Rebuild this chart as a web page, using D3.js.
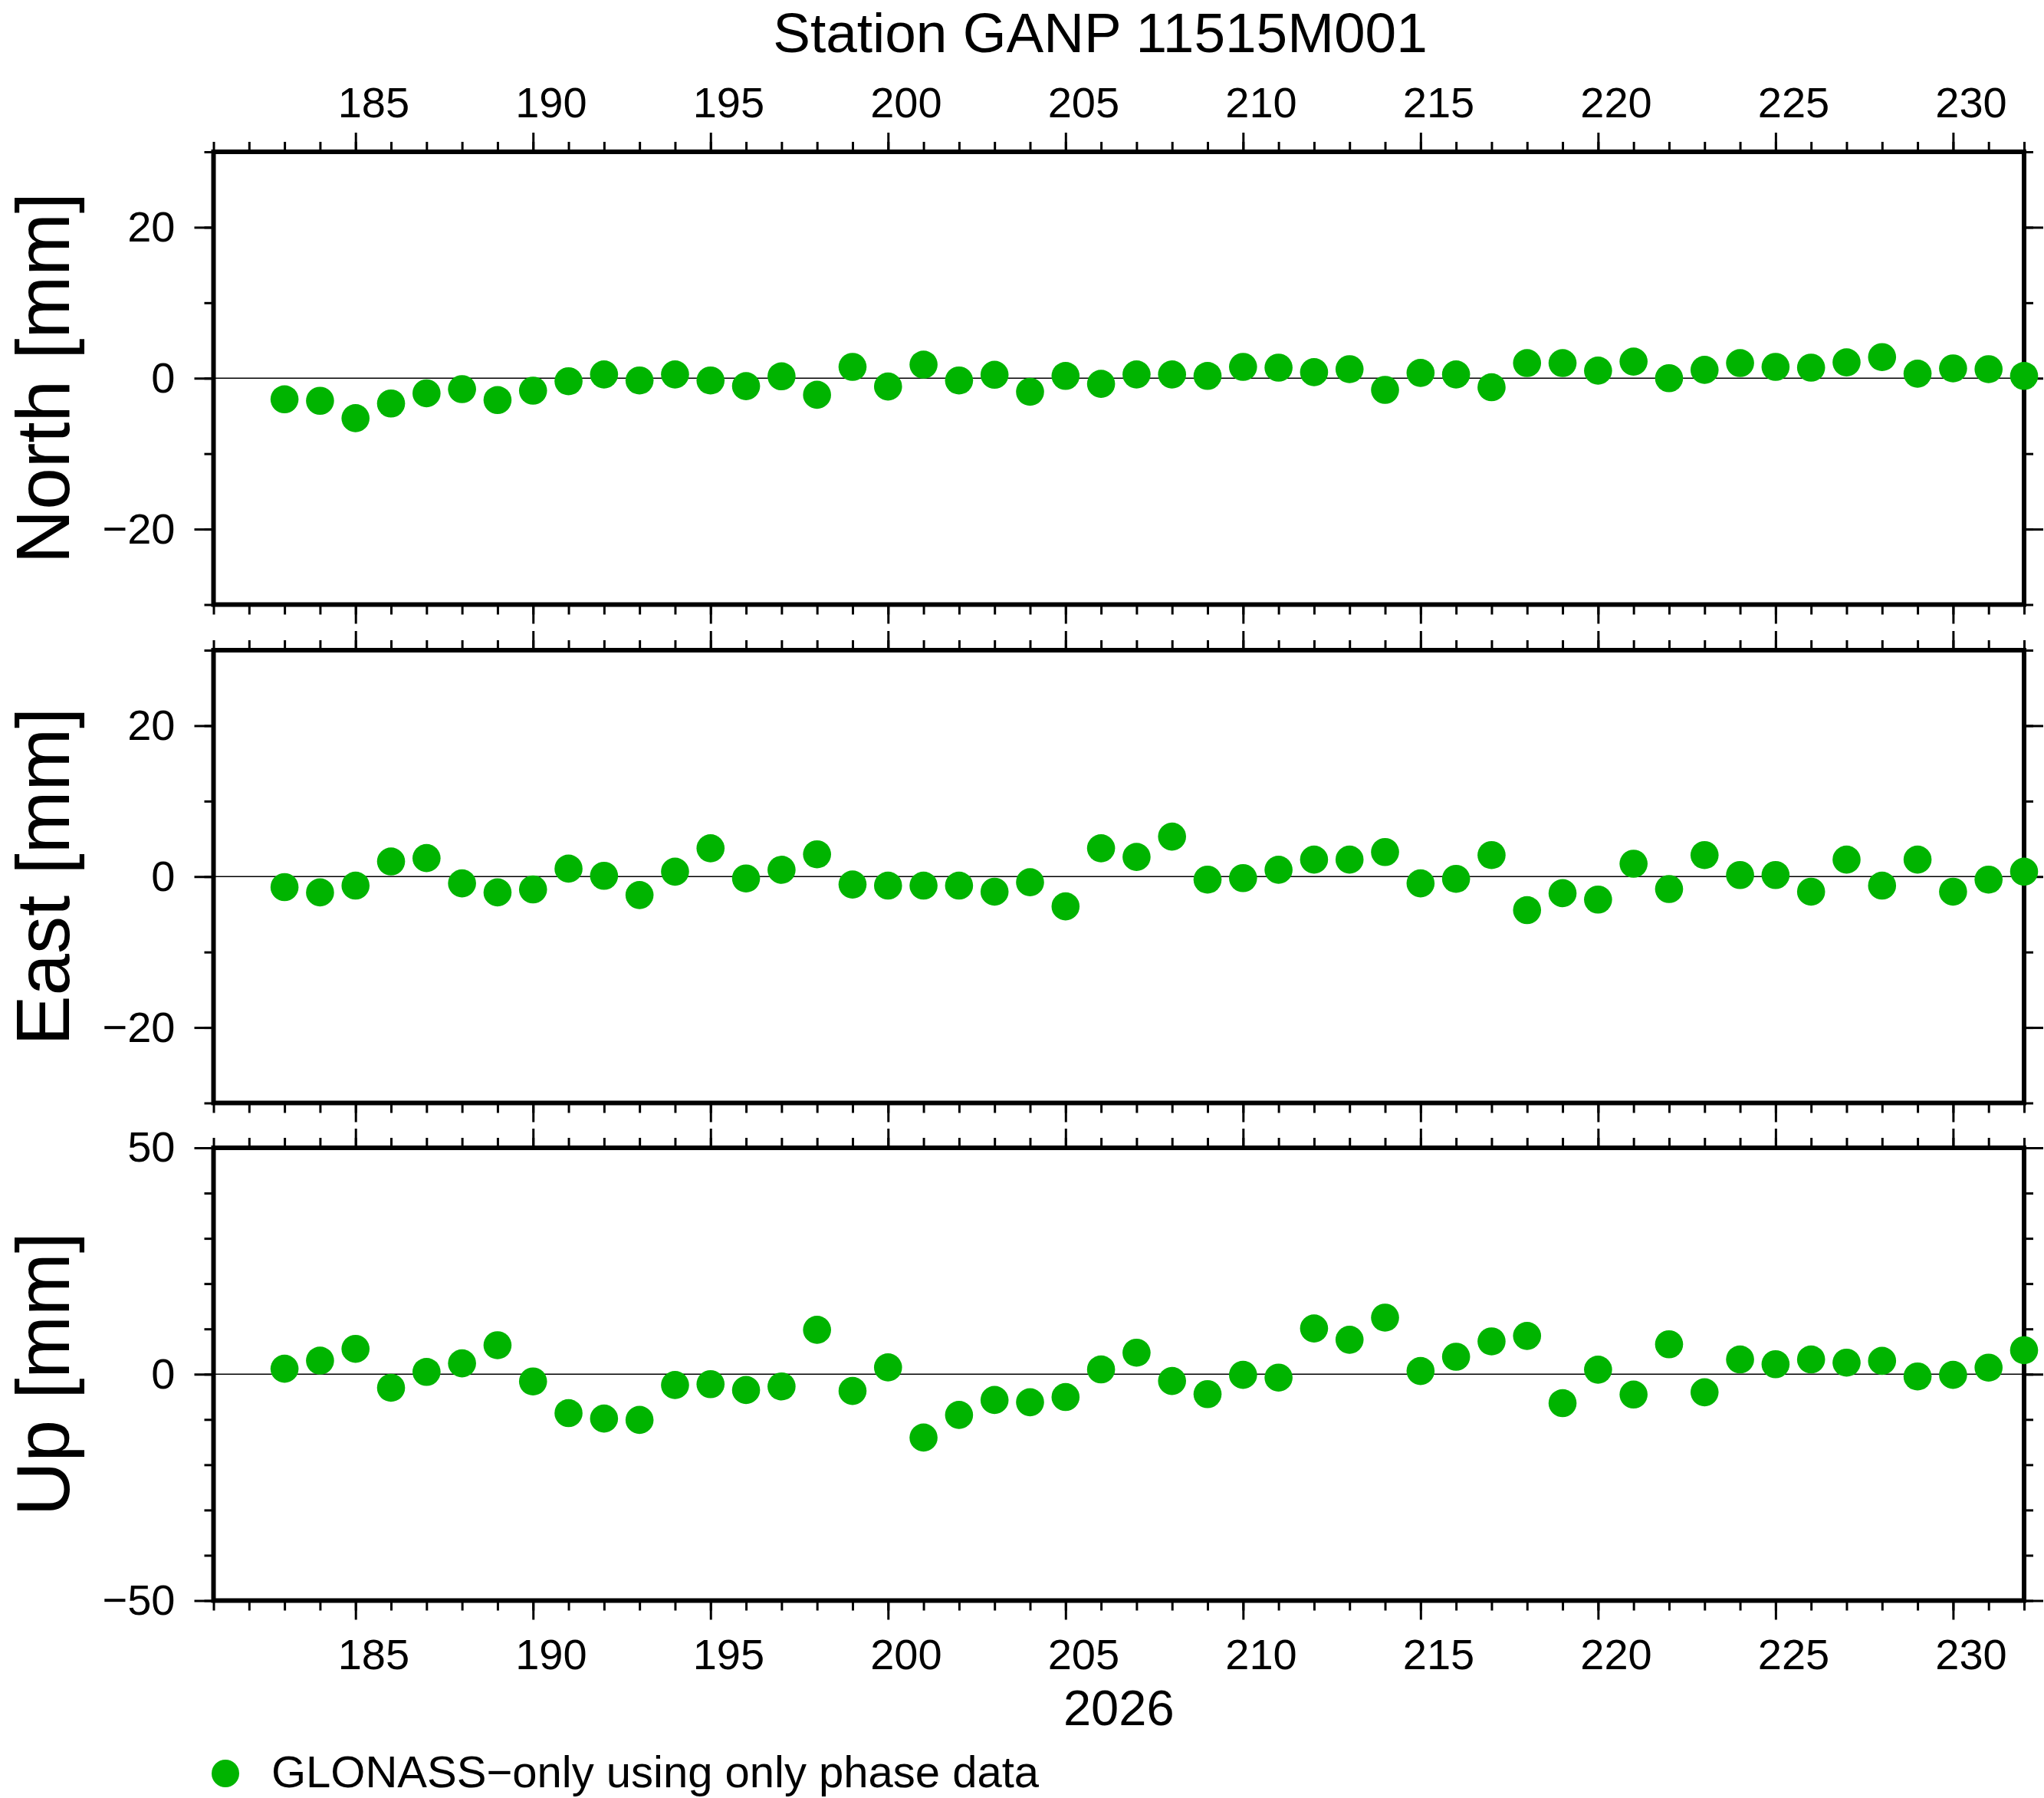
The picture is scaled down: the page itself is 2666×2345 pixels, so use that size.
<!DOCTYPE html>
<html>
<head>
<meta charset="utf-8">
<script src="https://cdn.jsdelivr.net/npm/d3@7"></script>
<style>
  body { margin: 0; background: #fff; }
  svg { display: block; }
</style>
</head>
<body>
<script>
'use strict'

// day of year 2026
const days = [183, 184, 185, 186, 187, 188, 189, 190, 191, 192, 193, 194, 195, 196, 197, 198, 199, 200, 201, 202, 203, 204,
  205, 206, 207, 208, 209, 210, 211, 212, 213, 214, 215, 216, 217, 218, 219, 220, 221, 222, 223, 224, 225, 226, 227, 228,
  229, 230, 231, 232]

const north = [-2.8, -3.0, -5.3, -3.35, -2.0, -1.45, -2.9, -1.65, -0.4, 0.5, -0.3, 0.5, -0.3, -1.05, 0.25, -2.2, 1.5, -1.1,
  1.8, -0.3, 0.45, -1.8, 0.3, -0.75, 0.5, 0.5, 0.3, 1.5, 1.4, 0.8, 1.2, -1.55, 0.7, 0.5, -1.2, 2.0, 2.0, 1.0, 2.2, 0.0,
  1.1, 2.0, 1.5, 1.4, 2.1, 2.8, 0.6, 1.3, 1.2, 0.3]

const east = [-1.4, -2.1, -1.2, 2.0, 2.45, -0.9, -2.1, -1.7, 1.05, 0.1, -2.45, 0.65, 3.75, -0.25, 0.9, 2.95, -1.05, -1.2,
  -1.2, -1.2, -2.0, -0.75, -3.95, 3.75, 2.6, 5.3, -0.4, -0.2, 0.9, 2.25, 2.25, 3.25, -0.9, -0.3, 2.85, -4.45, -2.2, -3.05,
  1.7, -1.65, 2.85, 0.2, 0.2, -2.0, 2.25, -1.2, 2.25, -2.0, -0.4, 0.65]

const up = [1.2, 3.0, 5.6, -3.0, 0.5, 2.4, 6.4, -1.6, -8.6, -9.8, -10.1, -2.4, -2.2, -3.5, -2.7, 9.8, -3.7, 1.5, -14.0,
  -9.0, -5.7, -6.2, -5.05, 1.05, 4.75, -1.5, -4.4, -0.15, -0.75, 10.1, 7.6, 12.5, 0.7, 3.85, 7.25, 8.45, -6.4, 1.0, -4.5,
  6.6, -4.0, 3.25, 2.2, 3.25, 2.55, 2.95, -0.5, -0.15, 1.45, 5.3]

const xDomain = [181, 232]
const xLabelDays = [185, 190, 195, 200, 205, 210, 215, 220, 225, 230]

const panelNames = ['North [mm]', 'East [mm]', 'Up [mm]']
const panelSeries = [north, east, up]
const panelDomains = [[-30, 30], [-30, 30], [-50, 50]]
const panelMajor = [[-20, 0, 20], [-20, 0, 20], [-50, 0, 50]]
const panelMinorStep = [10, 10, 10]

const title = 'Station GANP 11515M001'
const yearLabel = '2026'
const legendLabel = 'GLONASS\u2212only using only phase data'

const W = 2666, H = 2345
const left = 278.5, right = 2640
const panelTop = [198, 848, 1497]
const panelH = 590.5
const green = 'rgb(0,180,0)'
const font = '"Liberation Sans", Arial, Helvetica, sans-serif'

const svg = d3.select('body').append('svg')
  .attr('width', W)
  .attr('height', H)
  .style('font-family', font)

svg.append('rect').attr('width', W).attr('height', H).attr('fill', '#fff')

const x = d3.scaleLinear().domain(xDomain).range([left, right])
const minorDays = d3.range(xDomain[0], xDomain[1] + 1)
const fmt = v => v < 0 ? '\u2212' + Math.abs(v) : String(v)

const styleAxis = (g, size) => {
  g.attr('font-family', font).attr('font-size', size)
  g.select('.domain').remove()
  g.selectAll('.tick line').attr('stroke', '#000').attr('stroke-width', 3)
  g.selectAll('.tick text').attr('fill', '#000')
}

panelSeries.forEach((values, i) => {
  const top = panelTop[i], bottom = top + panelH
  const y = d3.scaleLinear().domain(panelDomains[i]).range([bottom, top])
  const minorY = d3.range(panelDomains[i][0], panelDomains[i][1] + 1, panelMinorStep[i])
  const p = svg.append('g')

  // x ticks, top and bottom
  p.append('g').attr('transform', `translate(0,${top})`)
    .call(d3.axisTop(x).tickValues(minorDays).tickSize(13).tickFormat(''))
    .call(styleAxis, 56)
  p.append('g').attr('transform', `translate(0,${top})`)
    .call(d3.axisTop(x).tickValues(xLabelDays).tickSize(25).tickFormat(''))
    .call(styleAxis, 56)
  p.append('g').attr('transform', `translate(0,${bottom})`)
    .call(d3.axisBottom(x).tickValues(minorDays).tickSize(13).tickFormat(''))
    .call(styleAxis, 56)
  p.append('g').attr('transform', `translate(0,${bottom})`)
    .call(d3.axisBottom(x).tickValues(xLabelDays).tickSize(25).tickFormat(''))
    .call(styleAxis, 56)

  // labels sit half a day right of the tick
  if (i === 0) {
    p.append('g').attr('transform', `translate(0,${top})`)
      .call(d3.axisTop(x).tickValues(xLabelDays.map(d => d + 0.5)).tickSize(0).tickPadding(45.5)
        .tickFormat(d => String(d - 0.5)))
      .call(styleAxis, 56)
  }
  if (i === panelSeries.length - 1) {
    p.append('g').attr('transform', `translate(0,${bottom})`)
      .call(d3.axisBottom(x).tickValues(xLabelDays.map(d => d + 0.5)).tickSize(0).tickPadding(50)
        .tickFormat(d => String(d - 0.5)))
      .call(styleAxis, 56)
  }

  // y ticks, left and right
  p.append('g').attr('transform', `translate(${left},0)`)
    .call(d3.axisLeft(y).tickValues(minorY).tickSize(12).tickFormat(''))
    .call(styleAxis, 56)
  p.append('g').attr('transform', `translate(${left},0)`)
    .call(d3.axisLeft(y).tickValues(panelMajor[i]).tickSize(25).tickPadding(25).tickFormat(fmt))
    .call(styleAxis, 56)
  p.append('g').attr('transform', `translate(${right},0)`)
    .call(d3.axisRight(y).tickValues(minorY).tickSize(12).tickFormat(''))
    .call(styleAxis, 56)
  p.append('g').attr('transform', `translate(${right},0)`)
    .call(d3.axisRight(y).tickValues(panelMajor[i]).tickSize(25).tickFormat(''))
    .call(styleAxis, 56)

  // zero line
  p.append('line')
    .attr('x1', left).attr('x2', right)
    .attr('y1', y(0)).attr('y2', y(0))
    .attr('stroke', '#000').attr('stroke-width', 1.3)

  // frame
  p.append('rect')
    .attr('x', left).attr('y', top)
    .attr('width', right - left).attr('height', panelH)
    .attr('fill', 'none').attr('stroke', '#000').attr('stroke-width', 6)

  p.append('g').selectAll('circle')
    .data(days.map((d, j) => [d, values[j]]))
    .join('circle')
    .attr('cx', d => x(d[0]))
    .attr('cy', d => y(d[1]))
    .attr('r', 18.3)
    .attr('fill', green)

  svg.append('text')
    .attr('transform', `translate(90,${(top + bottom) / 2}) rotate(-90)`)
    .attr('text-anchor', 'middle')
    .attr('font-size', 98)
    .text(panelNames[i])
})

svg.append('text')
  .attr('x', 1435).attr('y', 68)
  .attr('text-anchor', 'middle')
  .attr('font-size', 73)
  .text(title)

svg.append('text')
  .attr('x', (left + right) / 2).attr('y', 2250)
  .attr('text-anchor', 'middle')
  .attr('font-size', 65)
  .text(yearLabel)

svg.append('circle')
  .attr('cx', 294).attr('cy', 2313).attr('r', 18)
  .attr('fill', green)
svg.append('text')
  .attr('x', 354).attr('y', 2331)
  .attr('font-size', 58)
  .text(legendLabel)
</script>
</body>
</html>
